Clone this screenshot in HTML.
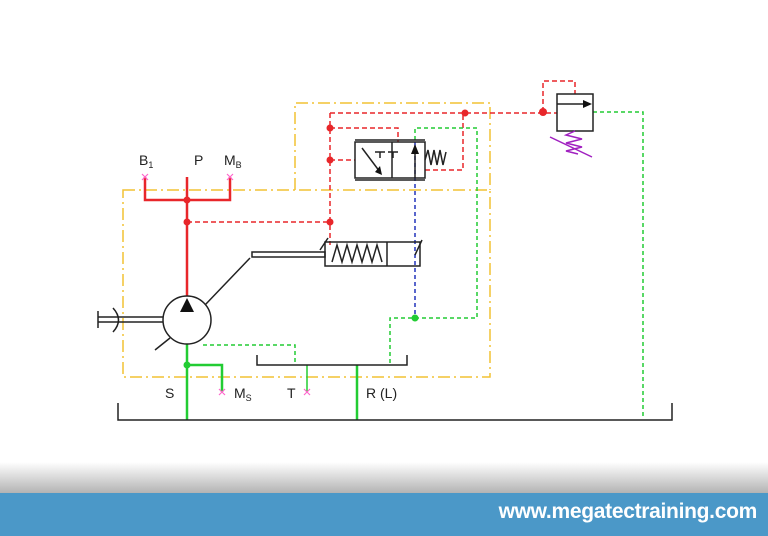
<!DOCTYPE html>
<html><head><style>
html,body{margin:0;padding:0;background:#fff;width:768px;height:536px;overflow:hidden;position:relative;font-family:"Liberation Sans",sans-serif}
.shade{position:absolute;left:0;top:462px;width:768px;height:31px;background:linear-gradient(#fff,#b3b3b3)}
.bar{position:absolute;left:0;top:493px;width:768px;height:43px;background:#4b98c8}
.url{position:absolute;right:11px;top:500px;color:#fff;font-weight:bold;font-size:21px;letter-spacing:-0.3px}
svg{position:absolute;left:0;top:0}
</style></head><body>
<div class="shade"></div><div class="bar"></div>
<div class="url">www.megatectraining.com</div>
<svg width="768" height="493" viewBox="0 0 768 493">
<g fill="none" stroke="#f2c233" stroke-width="1.5" stroke-dasharray="12,4,2,4">
<path d="M295 190 V103 H490 V190"/>
<path d="M123 190 H490 V377 H123 Z"/>
</g>
<!-- red dashed -->
<g fill="none" stroke="#e8262a" stroke-width="1.5" stroke-dasharray="5,3">
<path d="M330 113 H557"/>
<path d="M330 113 V245"/>
<path d="M330 128 H398 V142"/>
<path d="M330 160 H355"/>
<path d="M187 222 H330"/>
<path d="M425 170 H463 V113"/>
<path d="M543 112 V81 H575 V94"/>
</g>
<g fill="#e8262a">
<circle cx="330" cy="128" r="3.5"/><circle cx="330" cy="160" r="3.5"/><circle cx="330" cy="222" r="3.5"/>
<circle cx="187" cy="200" r="3.5"/><circle cx="187" cy="222" r="3.5"/><circle cx="465" cy="113" r="3.5"/><circle cx="543" cy="112" r="4"/>
</g>
<path d="M145 177 V200 H230 V177 M187 177 V296" fill="none" stroke="#e8262a" stroke-width="2.5"/>
<!-- green dashed -->
<g fill="none" stroke="#22cc33" stroke-width="1.5" stroke-dasharray="4,3">
<path d="M390 363 V318 H477 V128 H415 V142"/>
<path d="M203 345 H295 V365"/>
<path d="M593 112 H643 V418"/>
</g>
<path d="M415 142 V318" stroke="#2233bb" stroke-width="1.5" stroke-dasharray="4,3"/>
<circle cx="415" cy="318" r="3.5" fill="#22cc33"/>
<g fill="none" stroke="#22cc33" stroke-width="2.5">
<path d="M187 344 V420 M187 365 H222 V392 M357 365 V420"/>
<path d="M307 365 V392" stroke-width="1.5"/>
</g>
<circle cx="187" cy="365" r="3.5" fill="#22cc33"/>
<!-- black -->
<g fill="none" stroke="#222" stroke-width="1.5">
<path d="M118 403 V420 H672 V403"/>
<path d="M257 355 V365 H407 V355"/>
<circle cx="187" cy="320" r="24" fill="#fff"/>
<path d="M98 317 H163 M98 322 H163 M98 311 V328"/>
<path d="M113 308 Q124 320 113 332"/>
<path d="M155 350 L170 338"/>
<path d="M205 305 L250 258"/>
<path d="M252 252 H325 V257 H252 Z"/>
<path d="M325 242 H420 V266 H325 Z M387 242 V266"/>
<path d="M332 262 L337 245 L342 262 L347 245 L352 262 L357 245 L362 262 L367 245 L372 262 L377 245 L382 262"/>
<path d="M355 142 H425 V178 H355 Z M392 142 V178 M355 140 H425 M355 180 H425"/>
<path d="M362 148 L380 172"/>
<path d="M375 152 H385 M380 152 V158 M388 152 H398 M393 152 V158"/>
<path d="M415 178 V148"/>
<path d="M425 160 L428 150 L431 165 L434 150 L437 165 L440 150 L443 165 L446 152"/>
<path d="M320 250 L328 238 M415 255 L422 240"/>
<path d="M557 94 H593 V131 H557 Z M557 104 H590"/>
</g>
<path d="M180 312 L187 298 L194 312 Z" fill="#111"/>
<path d="M375 172 L382 175 L380 166 Z" fill="#111"/>
<path d="M411 154 L415 144 L419 154 Z" fill="#111"/>
<path d="M583 100 L592 104 L583 108 Z" fill="#111"/>
<g fill="none" stroke="#a020c0" stroke-width="1.5">
<path d="M575 131 L566 135 L582 139 L566 143 L582 147 L566 151 L578 154"/>
<path d="M592 157 L550 137"/>
</g>
<g stroke="#ff66cc" stroke-width="1.2">
<path d="M142 174 L148 180 M148 174 L142 180 M227 174 L233 180 M233 174 L227 180 M219 389 L225 395 M225 389 L219 395 M304 389 L310 395 M310 389 L304 395"/>
</g>
<g font-family="Liberation Sans,sans-serif" font-size="14" fill="#222">
<text x="139" y="165">B<tspan font-size="9" dy="3">1</tspan></text>
<text x="194" y="165">P</text>
<text x="224" y="165">M<tspan font-size="9" dy="3">B</tspan></text>
<text x="165" y="398">S</text>
<text x="234" y="398">M<tspan font-size="9" dy="3">S</tspan></text>
<text x="287" y="398">T</text>
<text x="366" y="398">R (L)</text>
</g>
</svg>
</body></html>
